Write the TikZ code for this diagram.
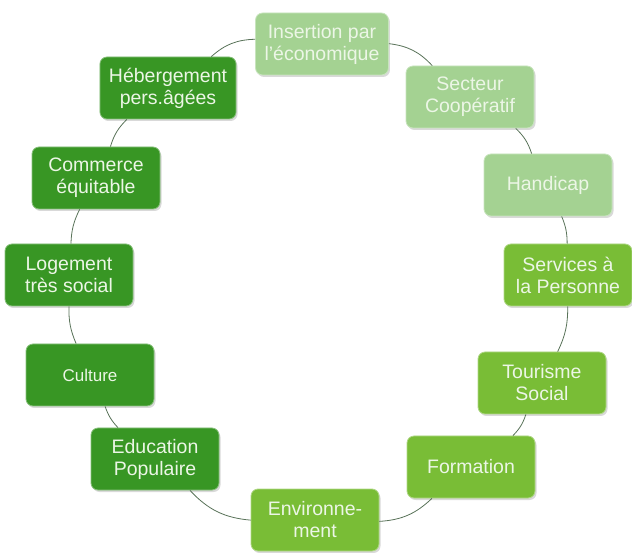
\documentclass[tikz,border=0pt]{standalone}
\usepackage{fontspec}
\setmainfont{Liberation Sans}
\usetikzlibrary{shadows}
\definecolor{paleleaf}{RGB}{164,210,146}
\definecolor{limeleaf}{RGB}{121,189,54}
\definecolor{darkleaf}{RGB}{56,150,36}
\definecolor{boxtext}{RGB}{236,246,230}
\definecolor{rim}{RGB}{88,114,88}

\begin{document}
\begin{tikzpicture}
[x=1pt,y=1pt,%
  box/.style={shape=rectangle,rounded corners=7pt,minimum width=128pt,minimum height=62pt,%
    inner xsep=9pt,align=center,text=boxtext,font=\fontsize{19.5}{22}\selectfont,%
    drop shadow={shadow xshift=1.5pt,shadow yshift=-2pt,opacity=0.3}},%
  pale box/.style={box,fill=paleleaf,draw=paleleaf!60!white,thick},%
  lime box/.style={box,fill=limeleaf,draw=limeleaf!60!white,thick},%
  dark box/.style={box,fill=darkleaf,draw=darkleaf!60!white,thick},%
  link/.style={draw=rim,line width=0.8pt}]
\useasboundingbox (0,0) rectangle (632,552);

\node[pale box] (insertion)   at (322,508) {Insertion par\\l'économique};
\node[pale box] (secteur)     at (470,455) {Secteur\\Coopératif};
\node[pale box] (handicap)    at (548,367) {Handicap};
\node[lime box] (services)    at (568,277) {Services à\\la Personne};
\node[lime box] (tourisme)    at (542,169) {Tourisme\\Social};
\node[lime box] (formation)   at (471,85)  {Formation};
\node[lime box] (environ)     at (315,32)  {Environne-\\ment};
\node[dark box] (education)   at (155,93)  {Education\\Populaire};
\node[dark box,font=\fontsize{17}{20}\selectfont] (culture) at (90,177) {Culture};
\node[dark box] (logement)    at (69,277)  {Logement\\très social};
\node[dark box] (commerce)    at (96,374)  {Commerce\\équitable};
\node[dark box] (hebergement) at (168,464) {Hébergement\\pers.âgées};

% the ring
\draw[link] (insertion) to[bend left=20] (secteur);
\draw[link] (secteur) to[bend left=14] (handicap);
\draw[link] (handicap) to[bend left=11] (services);
\draw[link] (services) to[bend left=13] (tourisme);
\draw[link] (tourisme) to[bend left=13] (formation);
\draw[link] (formation) to[bend left=20] (environ);
\draw[link] (environ) to[bend left=21] (education);
\draw[link] (education) to[bend left=12] (culture);
\draw[link] (culture) to[bend left=12] (logement);
\draw[link] (logement) to[bend left=12] (commerce);
\draw[link] (commerce) to[bend left=14] (hebergement);
\draw[link] (hebergement) to[bend left=20] (insertion);
\end{tikzpicture}
\end{document}
